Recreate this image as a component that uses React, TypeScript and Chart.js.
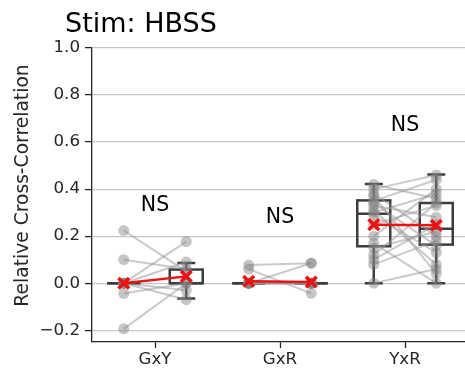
import React, { useEffect, useRef } from 'react';
import { Chart, registerables } from 'chart.js';

Chart.register(...registerables);

const categories = ['GxY', 'GxR', 'YxR'];
const yTickValues = [-0.2, 0, 0.2, 0.4, 0.6, 0.8, 1.0];
const titleText = 'Stim: HBSS';
const yAxisLabel = 'Relative Cross-Correlation';

// paired values (left = first condition, right = second condition)
const gxyLeft = [0.224, 0.1, 0.0, 0.0, 0.0, 0.0, -0.044, -0.194];
const gxyRight = [0.05, 0.06, 0.177, 0.09, -0.03, -0.07, 0.0, 0.0];
const gxrLeft = [0.077, 0.06, 0.0, 0.0, 0.0, 0.0, 0.0, 0.0];
const gxrRight = [0.085, -0.043, 0.085, 0.0, 0.0, 0.0, 0.0, 0.0];
const yxrLeft = [0.42, 0.4, 0.38, 0.37, 0.35, 0.34, 0.33, 0.31, 0.3, 0.29, 0.25, 0.2, 0.17, 0.15, 0.12, 0.1, 0.08, 0.0];
const yxrRight = [0.36, 0.46, 0.2, 0.04, 0.44, 0.16, 0.28, 0.08, 0.38, 0.13, 0.33, 0.4, 0.0, 0.22, 0.34, 0.25, 0.18, 0.06];

// means (red crosses)
const meanLeft = [0.0, 0.008, 0.249];
const meanRight = [0.029, 0.005, 0.246];

// box statistics per category
const q1Left = [0, 0, 0.157];
const medLeft = [0, 0, 0.295];
const q3Left = [0, 0, 0.352];
const loLeft = [0, 0, 0.0];
const hiLeft = [0, 0, 0.422];
const q1Right = [0, 0, 0.164];
const medRight = [0, 0, 0.232];
const q3Right = [0.058, 0, 0.341];
const loRight = [-0.065, 0, 0.0];
const hiRight = [0.086, 0, 0.462];

// significance labels
const nsLabels = ['NS', 'NS', 'NS'];
const nsLevels = [0.33, 0.277, 0.669];

const OFFSET = 0.25;
const BOX_HALF = 0.132;
const CAP_HALF = 0.072;
const FONT = '"DejaVu Sans", sans-serif';
const DARK = '#262626';

const boxPlugin = {
  id: 'boxes',
  beforeDatasetsDraw(chart: any) {
    const { ctx, scales } = chart;
    const x = scales.x;
    const y = scales.y;
    ctx.save();
    ctx.strokeStyle = '#3d3d3d';
    ctx.lineWidth = 2.5;
    ctx.lineCap = 'butt';
    const sides = [
      { s: -1, q1: q1Left, med: medLeft, q3: q3Left, lo: loLeft, hi: hiLeft },
      { s: 1, q1: q1Right, med: medRight, q3: q3Right, lo: loRight, hi: hiRight },
    ];
    categories.forEach((_, i) => {
      sides.forEach((sd) => {
        const c = i + sd.s * OFFSET;
        const px = x.getPixelForValue(c);
        const half = x.getPixelForValue(c + BOX_HALF) - px;
        const cap = x.getPixelForValue(c + CAP_HALF) - px;
        const yq1 = y.getPixelForValue(sd.q1[i]);
        const yq3 = y.getPixelForValue(sd.q3[i]);
        const ymed = y.getPixelForValue(sd.med[i]);
        const ylo = y.getPixelForValue(sd.lo[i]);
        const yhi = y.getPixelForValue(sd.hi[i]);
        ctx.beginPath();
        ctx.moveTo(px, yq1);
        ctx.lineTo(px, ylo);
        ctx.moveTo(px, yq3);
        ctx.lineTo(px, yhi);
        ctx.moveTo(px - cap, ylo);
        ctx.lineTo(px + cap, ylo);
        ctx.moveTo(px - cap, yhi);
        ctx.lineTo(px + cap, yhi);
        ctx.moveTo(px - half, ymed);
        ctx.lineTo(px + half, ymed);
        ctx.stroke();
        ctx.strokeRect(px - half, yq3, 2 * half, yq1 - yq3);
      });
    });
    ctx.restore();
  },
};

const textPlugin = {
  id: 'texts',
  afterDraw(chart: any) {
    const { ctx, scales } = chart;
    const x = scales.x;
    const y = scales.y;
    ctx.save();
    ctx.fillStyle = '#000';
    ctx.font = `27px ${FONT}`;
    ctx.textAlign = 'left';
    ctx.textBaseline = 'alphabetic';
    ctx.fillText(titleText, 65, 32);

    ctx.save();
    ctx.translate(28, 185.5);
    ctx.rotate(-Math.PI / 2);
    ctx.font = `18.7px ${FONT}`;
    ctx.fillStyle = DARK;
    ctx.textAlign = 'center';
    ctx.textBaseline = 'alphabetic';
    ctx.fillText(yAxisLabel, 0, 0);
    ctx.restore();

    ctx.font = `20.5px ${FONT}`;
    ctx.fillStyle = '#000';
    ctx.textAlign = 'center';
    ctx.textBaseline = 'middle';
    nsLabels.forEach((t, i) => {
      ctx.fillText(t, x.getPixelForValue(i), y.getPixelForValue(nsLevels[i]));
    });
    ctx.restore();
  },
};

export default function App() {
  const ref = useRef<HTMLCanvasElement>(null);
  useEffect(() => {
    if (!ref.current) return;
    const groups = [
      [gxyLeft, gxyRight],
      [gxrLeft, gxrRight],
      [yxrLeft, yxrRight],
    ];
    const datasets: any[] = [];
    categories.forEach((_, i) => {
      datasets.push({
        data: [
          { x: i - OFFSET, y: meanLeft[i] },
          { x: i + OFFSET, y: meanRight[i] },
        ],
        showLine: true,
        borderColor: '#ee1111',
        borderWidth: 2.5,
        pointStyle: 'crossRot',
        pointRadius: 7.5,
        pointBorderWidth: 3.5,
        pointBorderColor: '#ee1111',
        pointBackgroundColor: '#ee1111',
        order: 0,
      });
    });
    groups.forEach(([l, r], i) => {
      l.forEach((v, k) => {
        datasets.push({
          data: [
            { x: i - OFFSET, y: v },
            { x: i + OFFSET, y: r[k] },
          ],
          showLine: true,
          borderColor: 'rgba(150,150,150,0.5)',
          borderWidth: 2,
          pointRadius: 5.5,
          pointBorderWidth: 0,
          pointBackgroundColor: 'rgba(128,128,128,0.45)',
          pointBorderColor: 'rgba(128,128,128,0)',
          order: 1,
        });
      });
    });

    const chart = new Chart(ref.current, {
      type: 'scatter',
      data: { datasets },
      plugins: [boxPlugin, textPlugin],
      options: {
        animation: false,
        responsive: false,
        events: [],
        layout: { autoPadding: false, padding: { top: 48, left: 0, right: 0, bottom: 0 } },
        plugins: { legend: { display: false }, tooltip: { enabled: false }, title: { display: false } },
        scales: {
          x: {
            type: 'linear',
            min: -0.504,
            max: 2.48,
            afterBuildTicks: (axis: any) => {
              axis.ticks = categories.map((_, i) => ({ value: i }));
            },
            afterFit: (axis: any) => {
              axis.height = 28;
              axis.paddingLeft = 0;
              axis.paddingRight = 0;
            },
            ticks: {
              callback: (v: any) => categories[Math.round(Number(v))],
              font: { family: 'DejaVu Sans', size: 16.7 },
              color: DARK,
              padding: 2,
              maxRotation: 0,
              autoSkip: false,
            },
            grid: {
              display: true,
              drawOnChartArea: false,
              drawTicks: true,
              tickLength: 6,
              tickColor: DARK,
              tickWidth: 1.3,
            },
            border: { display: true, color: DARK, width: 1.3 },
          },
          y: {
            type: 'linear',
            min: -0.25,
            max: 1.0,
            afterBuildTicks: (axis: any) => {
              axis.ticks = yTickValues.map((v) => ({ value: v }));
            },
            afterFit: (axis: any) => {
              axis.width = 92;
              axis.paddingTop = 0;
              axis.paddingBottom = 0;
            },
            ticks: {
              callback: (v: any) => {
                const n = Number(v);
                const s = Math.abs(n).toFixed(1);
                return n < -1e-9 ? '\u2212' + s : s;
              },
              font: { family: 'DejaVu Sans', size: 16.7 },
              color: DARK,
              padding: 5,
            },
            grid: {
              color: '#c6c6c6',
              lineWidth: 1.2,
              drawTicks: true,
              tickLength: 7,
              tickColor: DARK,
              tickWidth: 1.3,
            },
            border: { display: true, color: DARK, width: 1.3 },
          },
        },
      },
    } as any);
    return () => chart.destroy();
  }, []);

  return (
    <div style={{ position: 'fixed', left: 0, top: 0, width: 465, height: 370, background: '#fff' }}>
      <canvas ref={ref} width={465} height={370} style={{ display: 'block' }} />
    </div>
  );
}
